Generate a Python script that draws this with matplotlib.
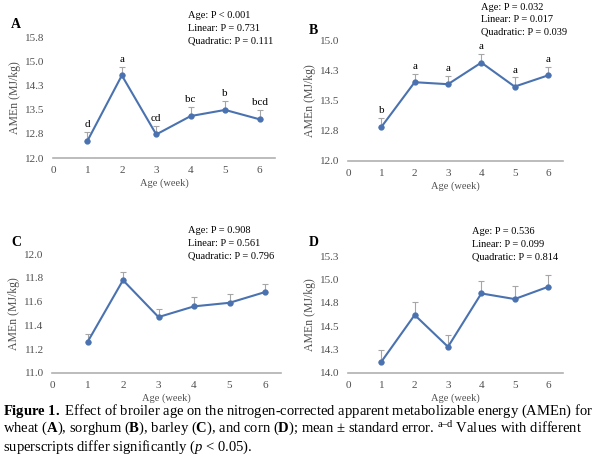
import matplotlib
matplotlib.use("Agg")
import matplotlib.pyplot as plt
from matplotlib.ticker import FuncFormatter

plt.rcParams['font.family'] = ['Liberation Serif', 'DejaVu Serif']
plt.rcParams['mathtext.fontset'] = 'custom'
plt.rcParams['mathtext.rm'] = 'Liberation Serif'
plt.rcParams['mathtext.it'] = 'Liberation Serif:italic'
plt.rcParams['mathtext.bf'] = 'Liberation Serif:bold'

# data
weeks = [1, 2, 3, 4, 5, 6]

wheat = [12.53, 14.56, 12.73, 13.30, 13.49, 13.20]
wheat_se = [0.27, 0.27, 0.27, 0.28, 0.28, 0.28]
wheat_letters = ['d', 'a', 'cd', 'bc', 'b', 'bcd']

sorghum = [12.85, 13.97, 13.92, 14.46, 13.86, 14.14]
sorghum_se = [0.22, 0.20, 0.21, 0.22, 0.23, 0.21]
sorghum_letters = ['b', 'a', 'a', 'a', 'a', 'a']

barley = [11.26, 11.78, 11.47, 11.56, 11.59, 11.68]
barley_se = [0.07, 0.07, 0.07, 0.08, 0.07, 0.07]

corn = [14.12, 14.62, 14.28, 14.85, 14.79, 14.92]
corn_se = [0.13, 0.14, 0.13, 0.13, 0.14, 0.13]

panels = [
    # letter, values, se, letters, ylim, ystep, stats
    ('A', wheat, wheat_se, wheat_letters, (12.0, 15.75), 0.75,
     ['Age: P < 0.001', 'Linear: P = 0.731', 'Quadratic: P = 0.111']),
    ('B', sorghum, sorghum_se, sorghum_letters, (12.0, 15.0), 0.75,
     ['Age: P = 0.032', 'Linear: P = 0.017', 'Quadratic: P = 0.039']),
    ('C', barley, barley_se, None, (11.0, 12.0), 0.2,
     ['Age: P = 0.908', 'Linear: P = 0.561', 'Quadratic: P = 0.796']),
    ('D', corn, corn_se, None, (14.0, 15.25), 0.25,
     ['Age: P = 0.536', 'Linear: P = 0.099', 'Quadratic: P = 0.814']),
]

W, H = 600, 472
# axes boxes in pixels: left, top, right, bottom
boxes = [(53, 37, 275, 158), (348, 41, 563, 161),
         (52, 254, 281, 373), (348, 256, 563, 373)]
letter_pos = [(11, 25), (309, 30), (11, 243), (309, 243)]
stat_pos = [(188, 16), (481, 7), (188, 231), (472, 232)]

line_col = '#4A72B0'
tick_col = '#505050'

# Excel-like rounding (14.25 -> 14.3)
fmt = FuncFormatter(lambda v, p: '%.1f' % (v + 1e-9))

fig = plt.figure(figsize=(6, 4.72), dpi=100)

for (name, vals, se, lets, ylim, step, stats), box, lp, sp in zip(
        panels, boxes, letter_pos, stat_pos):
    l, t, r, b = box
    ax = fig.add_axes([l / W, 1 - b / H, (r - l) / W, (b - t) / H])
    ax.errorbar(weeks, vals, yerr=[[0] * 6, se], fmt='none', ecolor='#A6A6A6',
                elinewidth=0.8, capsize=2, capthick=0.8, zorder=1)
    ax.plot(weeks, vals, color=line_col, lw=1.5, marker='o', ms=3.5, zorder=2)
    if lets:
        for x, v, e, s in zip(weeks, vals, se, lets):
            ax.annotate(s, (x, v + e), xytext=(0, 2), textcoords='offset points',
                        ha='center', va='bottom', fontsize=8, color='#000000')
    ax.set_xlim(0, 6.45)
    ax.set_ylim(*ylim)
    n = int(round((ylim[1] - ylim[0]) / step))
    ax.set_yticks([ylim[0] + i * step for i in range(n + 1)])
    ax.yaxis.set_major_formatter(fmt)
    ax.set_xticks(range(7))
    for s in ['top', 'right', 'left']:
        ax.spines[s].set_visible(False)
    ax.spines['bottom'].set_color('#B0B0B0')
    ax.spines['bottom'].set_linewidth(1.2)
    ax.tick_params(length=0, labelsize=8, colors=tick_col, pad=6)
    ax.set_xlabel('Age (week)', fontsize=7.5, color=tick_col, labelpad=2)
    ax.set_ylabel('AMEn (MJ/kg)', fontsize=8.5, color=tick_col, labelpad=3)
    fig.text(lp[0] / W, 1 - lp[1] / H, name, fontsize=10, fontweight='bold',
             va='center', ha='left')
    for i, s in enumerate(stats):
        fig.text(sp[0] / W, 1 - (sp[1] + i * 12.5) / H, s, fontsize=7.5,
                 va='center', ha='left')

cap = [
    r'$\mathbf{Figure\ 1.}$ Effect of broiler age on the nitrogen-corrected apparent metabolizable energy (AMEn) for',
    r'wheat ($\mathbf{A}$), sorghum ($\mathbf{B}$), barley ($\mathbf{C}$), and corn ($\mathbf{D}$); mean $\pm$ standard error. $^{\mathrm{a–d}}$ Values with different',
    r'superscripts differ significantly ($p$ < 0.05).',
]
for i, s in enumerate(cap):
    fig.text(3 / W, 1 - (411 + i * 18) / H, s, fontsize=10.5, va='center',
             ha='left')

fig.savefig('out.png', dpi=100)
